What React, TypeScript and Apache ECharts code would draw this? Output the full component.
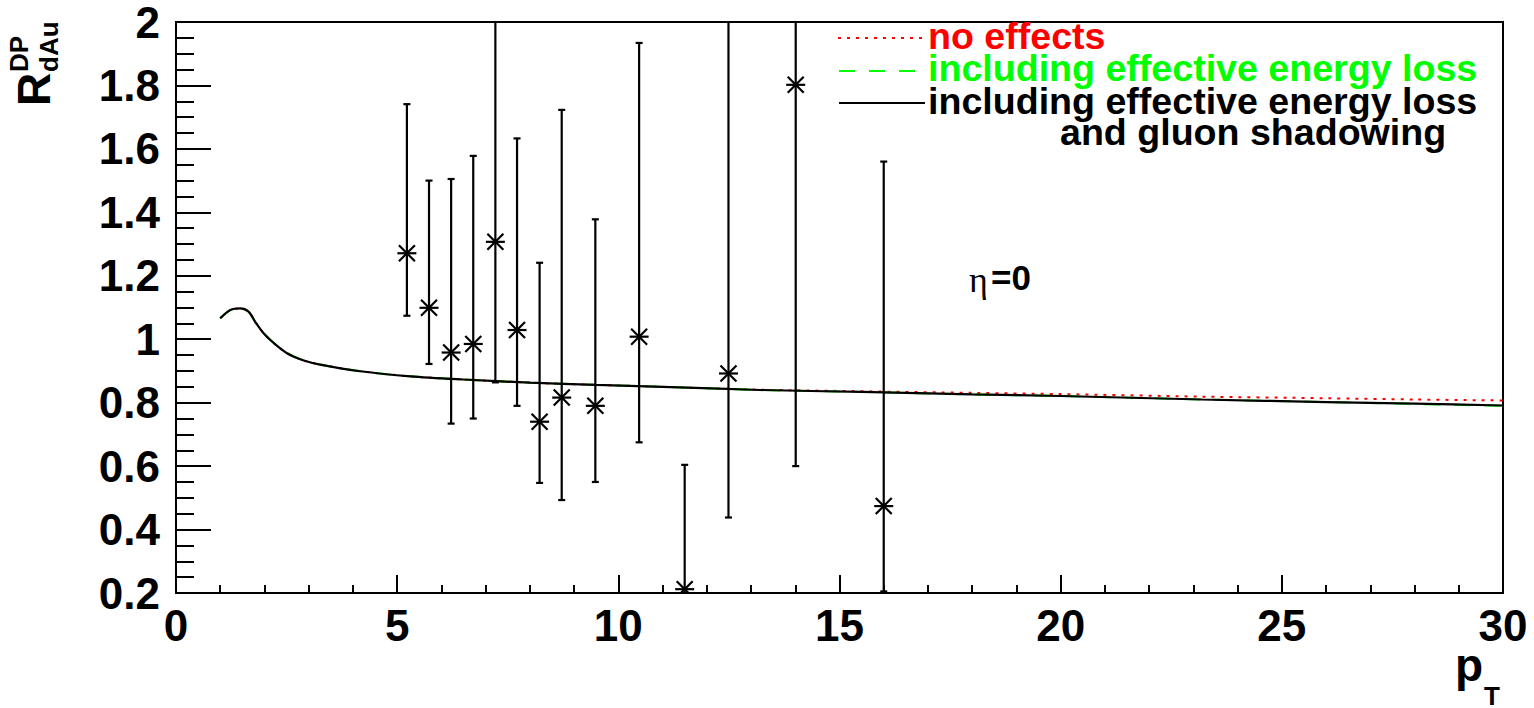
import React, { useEffect, useRef } from "react";
import * as echarts from "echarts";

// Theory curves (pT, R_dAu)
const curveX = [1.0, 1.23, 1.45, 1.64, 1.79, 1.98, 2.21, 2.51, 2.89, 3.26, 4.17, 5.3, 6.5, 8.0, 9.5, 11.0, 13.2, 15.5, 18, 20, 23.2, 26, 28, 30];
const noEffects = [1.066, 1.092, 1.097, 1.087, 1.055, 1.019, 0.988, 0.956, 0.933, 0.92, 0.899, 0.883, 0.873, 0.863, 0.856, 0.85, 0.841, 0.836, 0.831, 0.827, 0.819, 0.814, 0.81, 0.807];
const withEloss = [1.066, 1.092, 1.097, 1.087, 1.055, 1.019, 0.988, 0.956, 0.933, 0.92, 0.899, 0.883, 0.873, 0.863, 0.856, 0.85, 0.84, 0.834, 0.826, 0.821, 0.81, 0.802, 0.796, 0.79];
const withElossShadow = [1.066, 1.092, 1.097, 1.087, 1.055, 1.019, 0.988, 0.956, 0.933, 0.92, 0.899, 0.883, 0.873, 0.863, 0.856, 0.85, 0.84, 0.834, 0.826, 0.821, 0.81, 0.802, 0.797, 0.791];

// Data points with asymmetric errors
const dataX = [5.22, 5.72, 6.22, 6.72, 7.22, 7.71, 8.22, 8.72, 9.48, 10.47, 11.5, 12.49, 14.01, 16.0];
const dataY = [1.271, 1.099, 0.958, 0.985, 1.307, 1.029, 0.74, 0.816, 0.79, 1.008, 0.212, 0.892, 1.802, 0.474];
const dataLow = [1.074, 0.922, 0.734, 0.75, 0.864, 0.79, 0.547, 0.493, 0.55, 0.675, 0.0, 0.438, 0.6, 0.205];
const dataHigh = [1.741, 1.5, 1.505, 1.578, 2.3, 1.633, 1.241, 1.723, 1.378, 1.934, 0.604, 2.3, 2.3, 1.56];

const legendLabels = ["no effects", "including effective energy loss", "including effective energy loss", "and gluon shadowing"];

const FONT = "Liberation Sans, Arial, Helvetica, sans-serif";

export default function App() {
  const ref = useRef<HTMLDivElement>(null);
  useEffect(() => {
    if (!ref.current) return;
    const chart = echarts.init(ref.current, null, { renderer: "svg" });
    const zip = (ys: number[]) => curveX.map((x, i) => [x, ys[i]]);
    const pts = dataX.map((x, i) => [x, dataY[i], dataLow[i], dataHigh[i]]);
    const fmt = (v: number) => String(+v.toFixed(1));
    const axisCommon = {
      type: "value",
      axisLine: { show: true, onZero: false, lineStyle: { color: "#000", width: 2 } },
      splitLine: { show: false },
    };
    const option: any = {
      animation: false,
      grid: { left: 176, right: 31, top: 16, bottom: 115, show: true, borderColor: "#000", borderWidth: 2, backgroundColor: "transparent" },
      xAxis: {
        ...axisCommon,
        min: 0,
        max: 30,
        interval: 5,
        axisTick: { inside: true, length: 18, lineStyle: { color: "#000", width: 2 } },
        minorTick: { show: true, splitNumber: 5, length: 8, lineStyle: { color: "#000", width: 2 } },
        axisLabel: { margin: 10, fontSize: 44, fontWeight: "bold", fontFamily: FONT, color: "#000", formatter: fmt, showMinLabel: true, showMaxLabel: true },
      },
      yAxis: {
        ...axisCommon,
        min: 0.2,
        max: 2,
        interval: 0.2,
        axisTick: { inside: true, length: 35, lineStyle: { color: "#000", width: 2 } },
        minorTick: { show: true, splitNumber: 4, length: 18, lineStyle: { color: "#000", width: 2 } },
        axisLabel: { margin: 16, fontSize: 44, fontWeight: "bold", fontFamily: FONT, color: "#000", formatter: fmt, showMinLabel: true, showMaxLabel: true },
      },
      series: [
        { type: "line", data: zip(noEffects), showSymbol: false, smooth: 0.3, lineStyle: { color: "#ff0000", width: 2, type: [3, 6] }, z: 2 },
        { type: "line", data: zip(withEloss), showSymbol: false, smooth: 0.3, lineStyle: { color: "#00ff00", width: 2, type: [16, 14] }, z: 3 },
        { type: "line", data: zip(withElossShadow), showSymbol: false, smooth: 0.3, lineStyle: { color: "#000", width: 2.2 }, z: 4 },
        {
          type: "custom",
          clip: true,
          z: 5,
          data: pts,
          renderItem: (params: any, api: any) => {
            const x = api.value(0), y = api.value(1), lo = api.value(2), hi = api.value(3);
            const p = api.coord([x, y]);
            const pl = api.coord([x, lo]);
            const ph = api.coord([x, hi]);
            const s = 9.5, c = 3.5, d = 8;
            const st = { stroke: "#000", lineWidth: 2.2 };
            const ln = (x1: number, y1: number, x2: number, y2: number) => ({ type: "line", shape: { x1, y1, x2, y2 }, style: st });
            return {
              type: "group",
              children: [
                ln(p[0], ph[1], p[0], pl[1]),
                ln(p[0] - c, ph[1], p[0] + c, ph[1]),
                ln(p[0] - c, pl[1], p[0] + c, pl[1]),
                ln(p[0] - s, p[1], p[0] + s, p[1]),
                ln(p[0] - d, p[1] - d, p[0] + d, p[1] + d),
                ln(p[0] - d, p[1] + d, p[0] + d, p[1] - d),
              ],
            };
          },
        },
      ],
      graphic: [
        // legend samples
        { type: "line", shape: { x1: 838, y1: 38, x2: 925, y2: 38 }, style: { stroke: "#ff0000", lineWidth: 2, lineDash: [3, 6] }, z: 10 },
        { type: "line", shape: { x1: 839, y1: 71, x2: 920, y2: 71 }, style: { stroke: "#00ff00", lineWidth: 2, lineDash: [16, 14] }, z: 10 },
        { type: "line", shape: { x1: 839, y1: 103, x2: 925, y2: 103 }, style: { stroke: "#000", lineWidth: 2 }, z: 10 },
        { type: "text", x: 928, y: 36, style: { text: legendLabels[0], fill: "#ff0000", fontSize: 37.6, fontWeight: "bold", fontFamily: FONT, align: "left", verticalAlign: "middle" }, z: 10 },
        { type: "text", x: 928, y: 68, style: { text: legendLabels[1], fill: "#00ff00", fontSize: 37.6, fontWeight: "bold", fontFamily: FONT, align: "left", verticalAlign: "middle" }, z: 10 },
        { type: "text", x: 928, y: 101, style: { text: legendLabels[2], fill: "#000", fontSize: 37.6, fontWeight: "bold", fontFamily: FONT, align: "left", verticalAlign: "middle" }, z: 10 },
        { type: "text", x: 1060, y: 132, style: { text: legendLabels[3], fill: "#000", fontSize: 37.6, fontWeight: "bold", fontFamily: FONT, align: "left", verticalAlign: "middle" }, z: 10 },
        // eta label
        { type: "text", x: 969, y: 280, style: { text: "η", fill: "#000", fontSize: 36, fontFamily: "Liberation Serif, Times New Roman, serif", align: "left", verticalAlign: "middle" }, z: 10 },
        { type: "text", x: 991, y: 277, style: { text: "=0", fill: "#000", fontSize: 35, fontWeight: "bold", fontFamily: FONT, align: "left", verticalAlign: "middle" }, z: 10 },
        // x axis title
        { type: "text", x: 1455, y: 665, style: { text: "p", fill: "#000", fontSize: 46, fontWeight: "bold", fontFamily: FONT, align: "left", verticalAlign: "middle" }, z: 10 },
        { type: "text", x: 1484, y: 696, style: { text: "T", fill: "#000", fontSize: 26, fontWeight: "bold", fontFamily: FONT, align: "left", verticalAlign: "middle" }, z: 10 },
        // y axis title
        {
          type: "group",
          x: 34,
          y: 106,
          rotation: Math.PI / 2,
          z: 10,
          children: [
            { type: "text", x: 0, y: 0, style: { text: "R", fill: "#000", fontSize: 46, fontWeight: "bold", fontFamily: FONT, align: "left", verticalAlign: "middle" } },
            { type: "text", x: 34, y: -15, style: { text: "DP", fill: "#000", fontSize: 26, fontWeight: "bold", fontFamily: FONT, align: "left", verticalAlign: "middle" } },
            { type: "text", x: 34, y: 15, style: { text: "dAu", fill: "#000", fontSize: 26, fontWeight: "bold", fontFamily: FONT, align: "left", verticalAlign: "middle" } },
          ],
        },
      ],
    };
    chart.setOption(option);
    return () => chart.dispose();
  }, []);
  return <div ref={ref} style={{ position: "absolute", left: 0, top: 0, width: 1534, height: 708, background: "#fff" }} />;
}
